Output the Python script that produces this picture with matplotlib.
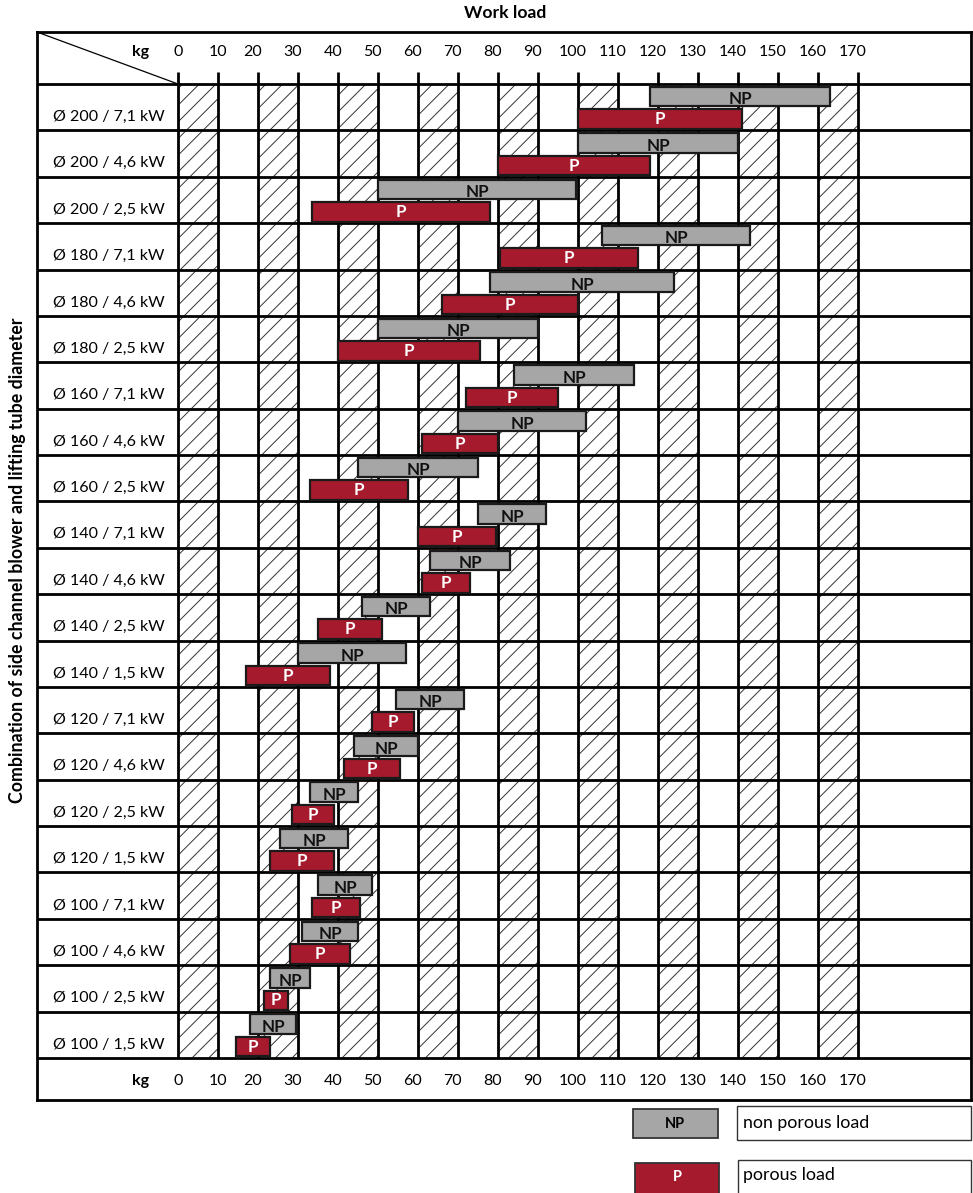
import numpy as np
import matplotlib
matplotlib.use("Agg")
import matplotlib.pyplot as plt
from matplotlib.patches import Rectangle

plt.rcParams['font.family'] = ['Lato', 'DejaVu Sans']
plt.rcParams['hatch.linewidth'] = 0.7

# Daten
rows = ["Ø 200 / 7,1 kW", "Ø 200 / 4,6 kW", "Ø 200 / 2,5 kW",
        "Ø 180 / 7,1 kW", "Ø 180 / 4,6 kW", "Ø 180 / 2,5 kW",
        "Ø 160 / 7,1 kW", "Ø 160 / 4,6 kW", "Ø 160 / 2,5 kW",
        "Ø 140 / 7,1 kW", "Ø 140 / 4,6 kW", "Ø 140 / 2,5 kW", "Ø 140 / 1,5 kW",
        "Ø 120 / 7,1 kW", "Ø 120 / 4,6 kW", "Ø 120 / 2,5 kW", "Ø 120 / 1,5 kW",
        "Ø 100 / 7,1 kW", "Ø 100 / 4,6 kW", "Ø 100 / 2,5 kW", "Ø 100 / 1,5 kW"]
np_min = [118, 100, 50, 106, 78, 50, 84, 70, 45, 75, 63, 46, 30, 54.5, 44, 33, 25.5, 35, 31, 23, 18]
np_max = [163, 140, 99.5, 143, 124, 90, 114, 102, 75, 92, 83, 63, 57, 71.5, 60, 45, 42.5, 48.5, 45, 33, 29.5]
p_min = [100, 80, 33.5, 80.5, 66, 40, 72, 61, 33, 60, 61, 35, 17, 48.5, 41.5, 28.5, 23, 33.5, 28, 21.5, 14.5]
p_max = [141, 118, 78, 115, 100, 75.5, 95, 80, 57.5, 79.5, 73, 51, 38, 59, 55.5, 39, 39, 45.5, 43, 27.5, 23]
kg_ticks = list(range(0, 180, 10))
hatch_starts = list(range(0, 170, 20))

GRAY = '#a6a6a6'
RED = '#a51a2d'
W, H = 973, 1193

n = len(rows)
head = 52 / 46.38
foot = 42 / 46.38

fig = plt.figure(figsize=(W / 100, H / 100), dpi=100)
ax = fig.add_axes([37 / W, 1 - 1100 / H, (971 - 37) / W, (1100 - 32) / H])
ax.set_xlim((37 - 178) / 4, (971 - 178) / 4)
ax.set_ylim(n + foot, -head)
ax.set_xticks([])
ax.set_yticks([])
for s in ax.spines.values():
    s.set_linewidth(2)

# schraffierte Spalten
ax.bar(hatch_starts, n, width=10, bottom=0, align='edge', fill=False,
       hatch='//', edgecolor='#333333', linewidth=0, zorder=1)

# Gitter
ax.vlines(kg_ticks, 0, n, color='black', lw=2, zorder=2)
ax.vlines(kg_ticks, -12 / 46.38, 0, color='black', lw=2, zorder=2)
ax.hlines(np.arange(0, n + 1), ax.get_xlim()[0], ax.get_xlim()[1], color='black', lw=2, zorder=2)
ax.plot([ax.get_xlim()[0], 0], [-head, 0], color='black', lw=0.9, zorder=2)

# Balken
y = np.arange(n)
np_w = np.array(np_max) - np.array(np_min)
p_w = np.array(p_max) - np.array(p_min)
ax.barh(y + 0.27, np_w, left=np_min, height=0.42, color=GRAY, edgecolor='#1a1a1a', lw=1.6, zorder=3)
ax.barh(y + 0.755, p_w, left=p_min, height=0.42, color=RED, edgecolor='#1a1a1a', lw=1.6, zorder=3)
for i in range(n):
    ax.text((np_min[i] + np_max[i]) / 2, y[i] + 0.33, 'NP', ha='center', va='center',
            fontsize=12.3, fontweight='bold', color='#111111', zorder=4)
    ax.text((p_min[i] + p_max[i]) / 2, y[i] + 0.76, 'P', ha='center', va='center',
            fontsize=12.3, fontweight='bold', color='white', zorder=4)
    ax.text(-3.3, y[i] + 0.71, rows[i], ha='right', va='center', fontsize=11.5)

# Kopf- und Fusszeile
for yy in (-0.69, n + 0.5):
    ax.text(-9.3, yy, 'kg', ha='center', va='center', fontsize=11.5, fontweight='bold')
    for k in kg_ticks:
        off = 0 if k < 20 else -1.3
        ax.text(k + off, yy, str(k), ha='center', va='center', fontsize=11.5)

fig.text(505 / W, 1 - 13 / H, 'Work load', ha='center', va='center', fontsize=12.6, fontweight='bold')
fig.text(18 / W, 1 - 560 / H, 'Combination of side channel blower and lifting tube diameter',
         ha='center', va='center', rotation=90, fontsize=12.8, fontweight='bold')

# Legende
def box(x0, y0, x1, y1, **kw):
    fig.add_artist(Rectangle((x0 / W, 1 - y1 / H), (x1 - x0) / W, (y1 - y0) / H,
                             transform=fig.transFigure, **kw))

box(633, 1109, 718, 1138, facecolor=GRAY, edgecolor='#333333', lw=1.3)
box(737, 1106, 971, 1140, facecolor='white', edgecolor='#333333', lw=1)
box(635, 1163, 719, 1195, facecolor=RED, edgecolor='#333333', lw=1.3)
box(738, 1160, 971, 1195, facecolor='white', edgecolor='#333333', lw=1)
fig.text(675 / W, 1 - 1124 / H, 'NP', ha='center', va='center', fontsize=10.5, fontweight='bold')
fig.text(677 / W, 1 - 1177 / H, 'P', ha='center', va='center', fontsize=10.5, fontweight='bold', color='white')
fig.text(743 / W, 1 - 1123 / H, 'non porous load', ha='left', va='center', fontsize=12.8)
fig.text(743 / W, 1 - 1175 / H, 'porous load', ha='left', va='center', fontsize=12.8)

fig.savefig('out.png', dpi=100)
